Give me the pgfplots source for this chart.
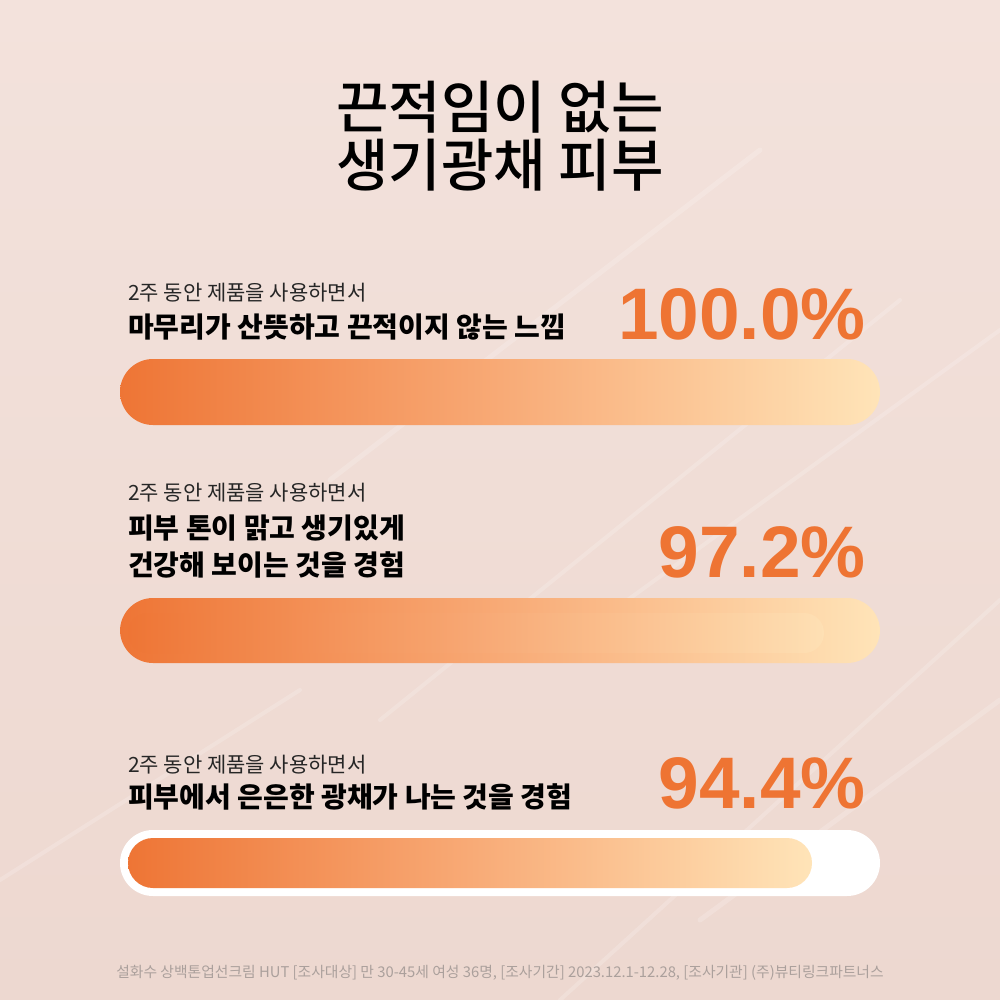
\documentclass[border=0pt]{standalone}
\usepackage{pgfplots}
\pgfplotsset{compat=1.18}
\usepackage{fontspec}
\setmainfont{Noto Sans CJK KR}
\newfontfamily\krmed{Noto Sans CJK KR Medium}
\newfontfamily\numfont{Liberation Sans}
\definecolor{bg1}{HTML}{F3E2DC}
\definecolor{bg2}{HTML}{EDD8D0}
\definecolor{orL}{HTML}{EE7535}
\definecolor{orM}{HTML}{F8AA76}
\definecolor{orR}{HTML}{FFE4B8}
\definecolor{pct}{HTML}{EE7433}
\definecolor{foot}{HTML}{ABA09C}
\begin{document}
\begin{tikzpicture}
\begin{axis}[width=1000pt,height=1000pt,scale only axis,
  xmin=0,xmax=1000,ymin=0,ymax=1000,y dir=reverse,hide axis,clip=true]
% background
\fill[top color=bg1,bottom color=bg2] (axis cs:0,0) rectangle (axis cs:1000,1000);
% cream streaks
\begin{scope}[white,opacity=0.18,line cap=round]
\draw[line width=5pt] (axis cs:330,480) -- (axis cs:760,150);
\draw[line width=4pt] (axis cs:560,1000) -- (axis cs:1000,600);
\draw[line width=4pt] (axis cs:380,720) -- (axis cs:900,300);
\draw[line width=4pt] (axis cs:600,620) -- (axis cs:1000,330);
\draw[line width=5pt] (axis cs:700,920) -- (axis cs:1000,700);
\draw[line width=4pt] (axis cs:0,880) -- (axis cs:300,690);
\end{scope}
% title
\node[align=center,font=\krmed\fontsize{57}{58}\selectfont] at (axis cs:500,136) {끈적임이 없는\\생기광채 피부};
% bar 1: 100.0
\addplot[draw=none,left color=orL,right color=orR,middle color=orM,rounded corners=33pt]
  coordinates {(500,359) (880,359) (880,425) (120,425) (120,359) (500,359)};
% bar 2: 97.2
\addplot[draw=none,left color=orL,right color=orR,middle color=orM,rounded corners=33pt]
  coordinates {(500,598) (880,598) (880,663) (120,663) (120,598) (500,598)};
\addplot[draw=none,left color=orL,right color=orR,middle color=orM,rounded corners=20pt,opacity=0.6]
  coordinates {(500,613) (824,613) (824,653) (128,653) (128,613) (500,613)};
% bar 3: 94.4
\addplot[draw=none,fill=white,rounded corners=33pt]
  coordinates {(500,830) (880,830) (880,896) (120,896) (120,830) (500,830)};
\addplot[draw=none,left color=orL,right color=orR,middle color=orM,rounded corners=25pt]
  coordinates {(500,838) (812,838) (812,888) (128,888) (128,838) (500,838)};
% labels
\tikzset{sm/.style={anchor=west,inner sep=0pt,font=\fontsize{21}{22}\selectfont,text=black!85},
         bd/.style={anchor=west,inner sep=0pt,font=\bfseries\fontsize{28}{40}\selectfont,text=black},
         pc/.style={anchor=east,inner sep=0pt,font=\numfont\bfseries\fontsize{73}{73}\selectfont,text=pct}}
\node[sm] at (axis cs:128,293) {2주 동안 제품을 사용하면서};
\node[bd] at (axis cs:128,327) {마무리가 산뜻하고 끈적이지 않는 느낌};
\node[pc] at (axis cs:866,314) {100.0\%};
\node[sm] at (axis cs:128,493) {2주 동안 제품을 사용하면서};
\node[bd] at (axis cs:128,528) {피부 톤이 맑고 생기있게};
\node[bd] at (axis cs:128,565) {건강해 보이는 것을 경험};
\node[pc] at (axis cs:866,552) {97.2\%};
\node[sm] at (axis cs:128,765) {2주 동안 제품을 사용하면서};
\node[bd] at (axis cs:128,797) {피부에서 은은한 광채가 나는 것을 경험};
\node[pc] at (axis cs:866,783) {94.4\%};
\node[inner sep=0pt,font=\fontsize{14.8}{16}\selectfont,text=foot] at (axis cs:500,973)
  {설화수 상백톤업선크림 HUT [조사대상] 만 30-45세 여성 36명, [조사기간] 2023.12.1-12.28, [조사기관] (주)뷰티링크파트너스};
\end{axis}
\end{tikzpicture}
\end{document}
